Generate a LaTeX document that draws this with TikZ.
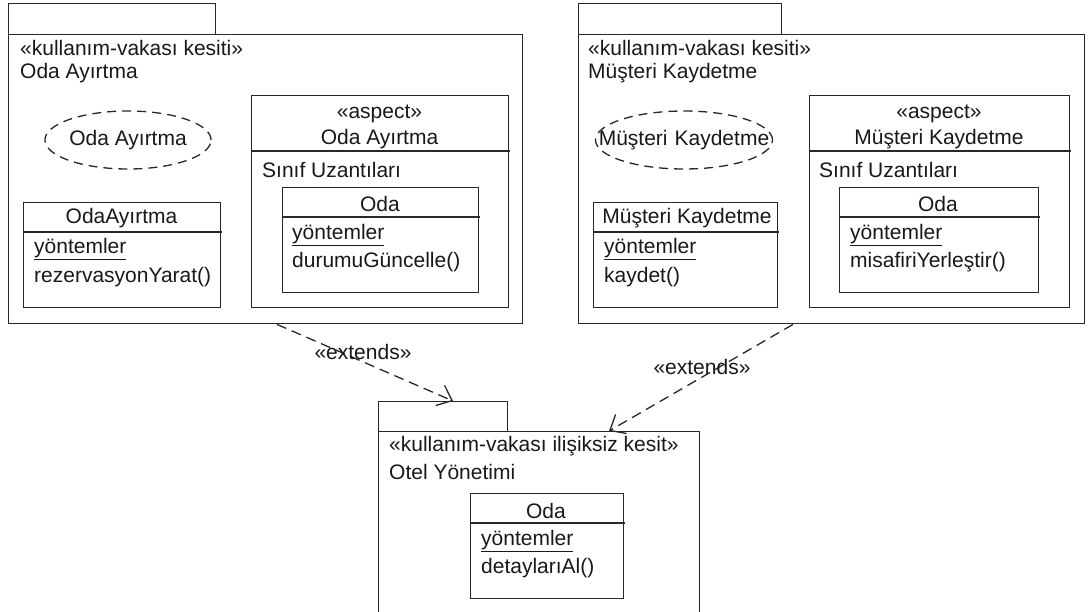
\documentclass[tikz,border=0pt]{standalone}
\usepackage{fontspec}
\setmainfont{Liberation Sans}
\usetikzlibrary{shapes.geometric,arrows.meta}
\newcommand\umlfont{\fontsize{21}{25}\selectfont}
\definecolor{ln}{RGB}{40,40,40}
\definecolor{tx}{RGB}{25,25,25}
\tikzset{
  box/.style={draw=ln, line width=1.4pt, inner sep=0pt, anchor=north west},
  divider/.style={draw=ln, line width=1.4pt},
  lt/.style={font=\umlfont, text=tx, inner sep=0pt, anchor=west},
  ct/.style={font=\umlfont, text=tx, inner sep=0pt},
  usecase/.style={draw=ln, line width=1.3pt, dash pattern=on 9pt off 6pt, ellipse, inner sep=0pt, font=\umlfont, text=tx},
  dep/.style={draw=ln, line width=1.3pt, dash pattern=on 10pt off 6pt, -{Straight Barb[length=13pt,width=22pt,line width=1.3pt]}}
}
\begin{document}
\begin{tikzpicture}[x=1pt,y=-1pt]
\useasboundingbox (0,0) rectangle (1088,611);
\fill[white] (0,0) rectangle (1088,611);
\clip (0,0) rectangle (1088,611);

% ---------- left package ----------
\node[box, minimum width=207pt, minimum height=31pt] (ltab) at (8,3) {};
\node[box, minimum width=514pt, minimum height=289pt] (lpkg) at (8,34) {};
\node[lt] (lst) at (20,48) {«kullanım-vakası kesiti»};
\node[lt] (lname) at (20,73) {Oda Ayırtma};
\node[usecase, minimum width=150pt, minimum height=58pt] (luc) at (128,140) {Oda Ayırtma};
% class
\node[box, minimum width=197pt, minimum height=105pt] (lcls) at (23,202) {};
\draw[divider] (23,232) -- (222,232);
\node[ct] (lclsn) at (121.5,218) {OdaAyırtma};
\node[lt] (lclsy) at (34,249) {\underline{yöntemler}};
\node[lt] (lclsm) at (34,277) {rezervasyonYarat()};
% aspect
\node[box, minimum width=257pt, minimum height=212pt] (lasp) at (251,95) {};
\draw[divider] (251,151) -- (510,151);
\node[ct] (lasps) at (379.5,114) {«aspect»};
\node[ct] (laspn) at (379.5,139) {Oda Ayırtma};
\node[lt] (laspu) at (262,170) {Sınıf Uzantıları};
\node[box, minimum width=196pt, minimum height=105pt] (loda) at (282,187) {};
\draw[divider] (282,217) -- (480,217);
\node[ct] (lodan) at (380,204) {Oda};
\node[lt] (loday) at (292,235) {\underline{yöntemler}};
\node[lt] (lodam) at (292,262) {durumuGüncelle()};

% ---------- right package ----------
\node[box, minimum width=203pt, minimum height=31pt] (rtab) at (578,3) {};
\node[box, minimum width=506pt, minimum height=289pt] (rpkg) at (578,34) {};
\node[lt] (rst) at (588,48) {«kullanım-vakası kesiti»};
\node[lt] (rname) at (588,73) {Müşteri Kaydetme};
\node[usecase, minimum width=177pt, minimum height=58pt, text width=1pt, align=center] (ruc) at (684,140) {\makebox[1pt]{Müşteri Kaydetme}};
% class
\node[box, minimum width=184pt, minimum height=105pt] (rcls) at (593,202) {};
\draw[divider] (593,232) -- (779,232);
\node[ct] (rclsn) at (687,218) {Müşteri Kaydetme};
\node[lt] (rclsy) at (604,249) {\underline{yöntemler}};
\node[lt] (rclsm) at (604,277) {kaydet()};
% aspect
\node[box, minimum width=260pt, minimum height=212pt] (rasp) at (809,95) {};
\draw[divider] (809,151) -- (1071,151);
\node[ct] (rasps) at (939,114) {«aspect»};
\node[ct] (raspn) at (939,139) {Müşteri Kaydetme};
\node[lt] (raspu) at (819,170) {Sınıf Uzantıları};
\node[box, minimum width=199pt, minimum height=105pt] (roda) at (839,187) {};
\draw[divider] (839,217) -- (1040,217);
\node[ct] (rodan) at (938,204) {Oda};
\node[lt] (roday) at (850,235) {\underline{yöntemler}};
\node[lt] (rodam) at (850,262) {misafiriYerleştir()};

% ---------- bottom package ----------
\node[box, minimum width=129pt, minimum height=30pt] (btab) at (378,401) {};
\node[box, minimum width=321pt, minimum height=220pt] (bpkg) at (378,431) {};
\node[lt] (bst) at (389,446) {«kullanım-vakası ilişiksiz kesit»};
\node[lt] (bname) at (389,472) {Otel Yönetimi};
\node[box, minimum width=153pt, minimum height=105pt] (boda) at (470,493) {};
\draw[divider] (470,523) -- (625,523);
\node[ct] (bodan) at (546,511) {Oda};
\node[lt] (boday) at (481,541) {\underline{yöntemler}};
\node[lt] (bodam) at (481,568) {detaylarıAl()};

% ---------- dependencies ----------
\draw[dep] ([xshift=269pt]lpkg.south west) -- ([xshift=75pt]btab.north west);
\draw[dep] ([xshift=215pt]rpkg.south west) -- ([xshift=231pt]bpkg.north west);
\node[ct] (lext) at (363,352) {«extends»};
\node[ct] (rext) at (702,367) {«extends»};
\end{tikzpicture}
\end{document}
